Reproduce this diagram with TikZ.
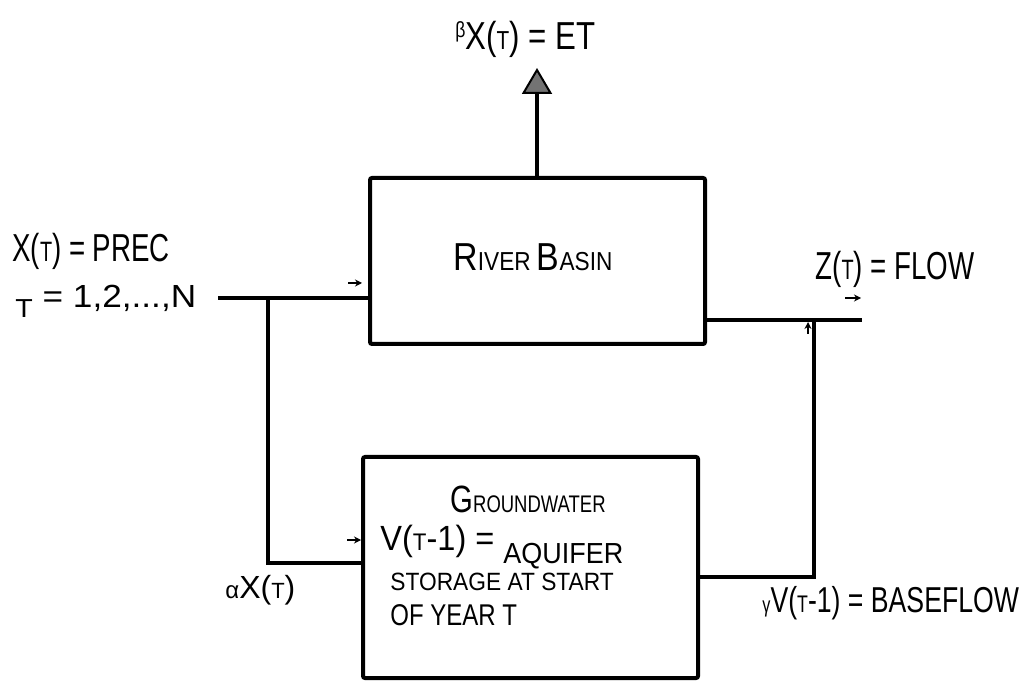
\documentclass[tikz,border=0pt]{standalone}
\usepackage{fontspec}
\setmainfont{Liberation Sans}
\usetikzlibrary{arrows.meta}
\newcommand\fs[1]{\fontsize{#1}{#1}\selectfont}
\newcommand\sx[2]{\scalebox{#1}[1]{#2}}
\begin{document}
\begin{tikzpicture}[x=0.5pt,y=-0.5pt,
  blk/.style={draw, line width=2pt, rounded corners=1pt, inner sep=0pt},
  wire/.style={line width=2pt},
  tinyarrow/.style={line width=0.8pt, -{Stealth[length=3.5pt,width=3.5pt]}},
  lbl/.style={inner sep=0pt, anchor=base west}]
\useasboundingbox (0,0) rectangle (1031,688);

% boxes
\node[blk, minimum width=167.5pt, minimum height=83pt] (rb) at (537.5,261) {};
\node[blk, minimum width=167.5pt, minimum height=110.5pt] (gw) at (530.5,567.5) {};

% box texts
\node[lbl] (rbt) at (453,271) {\sx{0.87}{\fs{19.5}R\fs{13}IVER \fs{19.5}B\fs{13}ASIN}};
\node[lbl] (gwt1) at (450,512) {\sx{0.77}{\fs{19}G\fs{12}ROUNDWATER}};
\node[lbl] (gwt2) at (380,550) {\sx{0.93}{\fs{17.5}V(\fs{12}T\fs{17.5}-1) = \raisebox{-6.5pt}{\fs{14.5}AQUIFER}}};
\node[lbl] (gwt3) at (390,590) {\sx{0.91}{\fs{12.5}STORAGE AT START}};
\node[lbl] (gwt4) at (390,625) {\sx{0.80}{\fs{15}OF YEAR T}};

% ET arrow
\coordinate (ettip) at (537,68);
\draw[wire, -{Triangle[length=13pt,width=15pt,line width=1pt,fill=black!55]}] (rb.north -| ettip) -- (ettip);
\node[lbl] (etl) at (455,50) {\sx{0.8}{\raisebox{6pt}{\fs{11}β}\fs{19.5}X(\fs{13}T\fs{19.5}) = ET}};

% input
\coordinate (pin) at (218,298);
\coordinate (br) at (268,298);
\draw[wire] (pin) -- (pin -| rb.west);
\draw[wire] (br) |- (gw.west |- 0,563);
\node[lbl] (xl1) at (12,262) {\sx{0.71}{\fs{19.5}X(\fs{14}T\fs{19.5}) = PREC}};
\node[lbl] (xl2) at (15,308) {\sx{1.1}{\raisebox{-5pt}{\fs{13}T}\fs{16} = 1,2,...,N}};
\node[lbl] (al) at (225,598) {\fs{12}α\fs{16}X(\fs{11}T\fs{16})};

% output
\coordinate (pout) at (862,320);
\coordinate (jn) at (814,320);
\coordinate (gwo) at (gw.east |- 0,577);
\draw[wire] (rb.east |- pout) -- (pout);
\draw[wire] (gwo) -| (jn);
\node[lbl] (zl) at (815,280) {\sx{0.71}{\fs{19.5}Z(\fs{14}T\fs{19.5}) = FLOW}};
\node[lbl] (gl) at (762,612) {\sx{0.74}{\fs{11}γ\fs{18}V(\fs{12}T\fs{18}-1) = BASEFLOW}};

% small direction arrows
\coordinate (s1a) at (348,283); \coordinate (s1b) at (362,283);
\coordinate (s2a) at (347,540); \coordinate (s2b) at (361,540);
\coordinate (s3a) at (845,298); \coordinate (s3b) at (861,298);
\coordinate (s4a) at (808,334); \coordinate (s4b) at (808,322);
\draw[tinyarrow] (s1a) -- (s1b);
\draw[tinyarrow] (s2a) -- (s2b);
\draw[tinyarrow] (s3a) -- (s3b);
\draw[tinyarrow] (s4a) -- (s4b);
\end{tikzpicture}
\end{document}
